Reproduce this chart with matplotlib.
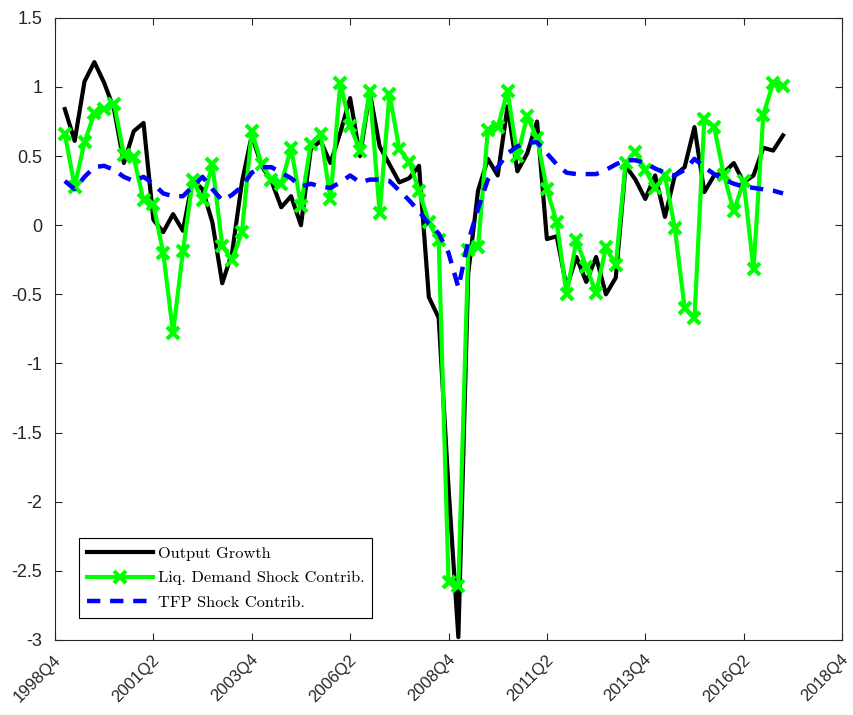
import numpy as np
import matplotlib.pyplot as plt
import matplotlib.transforms as mtransforms

# quarterly data, 1999Q1 .. 2017Q2
quarters = np.arange(1, 75)

output_growth = [0.84, 0.61, 1.04, 1.18, 1.03, 0.84, 0.45, 0.68, 0.74, 0.04,
                 -0.05, 0.08, -0.04, 0.33, 0.26, 0.02, -0.42, -0.20, 0.31, 0.65,
                 0.43, 0.32, 0.13, 0.21, 0.00, 0.55, 0.61, 0.45, 0.67, 0.92,
                 0.50, 0.96, 0.57, 0.44, 0.31, 0.34, 0.43, -0.52, -0.67, -1.90,
                 -2.98, -0.35, 0.25, 0.48, 0.36, 0.86, 0.39, 0.52, 0.75, -0.10,
                 -0.08, -0.45, -0.23, -0.41, -0.23, -0.50, -0.38, 0.43, 0.33, 0.19,
                 0.36, 0.06, 0.36, 0.42, 0.71, 0.24, 0.36, 0.38, 0.45, 0.31,
                 0.36, 0.56, 0.54, 0.65]

liq_demand = [0.66, 0.28, 0.60, 0.81, 0.84, 0.88, 0.51, 0.49, 0.18, 0.15,
              -0.20, -0.78, -0.19, 0.33, 0.18, 0.44, -0.15, -0.25, -0.05, 0.68,
              0.44, 0.33, 0.30, 0.56, 0.14, 0.59, 0.66, 0.19, 1.03, 0.72,
              0.54, 0.97, 0.09, 0.95, 0.55, 0.46, 0.25, 0.02, -0.11, -2.58,
              -2.61, -0.18, -0.16, 0.69, 0.71, 0.97, 0.50, 0.79, 0.63, 0.26,
              0.02, -0.50, -0.11, -0.30, -0.49, -0.16, -0.29, 0.45, 0.53, 0.40,
              0.27, 0.36, -0.02, -0.60, -0.67, 0.77, 0.71, 0.36, 0.10, 0.32,
              -0.32, 0.80, 1.03, 1.01]

tfp = [0.32, 0.26, 0.35, 0.42, 0.43, 0.40, 0.35, 0.32, 0.35, 0.30,
       0.23, 0.21, 0.21, 0.28, 0.35, 0.26, 0.18, 0.22, 0.28, 0.38,
       0.42, 0.42, 0.38, 0.34, 0.28, 0.30, 0.28, 0.27, 0.31, 0.36,
       0.31, 0.33, 0.33, 0.32, 0.25, 0.18, 0.10, 0.01, -0.06, -0.20,
       -0.45, -0.12, 0.12, 0.33, 0.42, 0.52, 0.57, 0.60, 0.60, 0.52,
       0.44, 0.38, 0.37, 0.37, 0.37, 0.40, 0.44, 0.47, 0.47, 0.45,
       0.41, 0.38, 0.36, 0.40, 0.48, 0.42, 0.37, 0.33, 0.30, 0.28,
       0.27, 0.26, 0.25, 0.23]

xtick_pos = np.arange(0, 81, 10)
xtick_labels = ['1998Q4', '2001Q2', '2003Q4', '2006Q2', '2008Q4',
                '2011Q2', '2013Q4', '2016Q2', '2018Q4']
ytick_pos = np.arange(-3, 1.51, 0.5)
ytick_labels = ['-3', '-2.5', '-2', '-1.5', '-1', '-0.5', '0', '0.5', '1', '1.5']

plt.rcParams['font.family'] = ['Liberation Sans', 'DejaVu Sans']

fig = plt.figure(figsize=(8.54, 7.15), dpi=100)
ax = fig.add_axes([0.0644, 0.105, 0.9216, 0.870])

ax.plot(quarters, output_growth, color='black', lw=3, label='Output Growth')
ax.plot(quarters, liq_demand, color='#00ff00', lw=3, marker='x', ms=9, mew=3,
        label='Liq. Demand Shock Contrib.')
ax.plot(quarters, tfp, color='#0000ff', lw=3.2, ls=(0, (3, 2.2)),
        label='TFP Shock Contrib.')

ax.set_xlim(0, 80)
ax.set_ylim(-3, 1.5)
ax.set_xticks(xtick_pos)
ax.set_xticklabels(xtick_labels, rotation=45, ha='right', va='top',
                   rotation_mode='anchor', fontsize=12)
ax.set_yticks(ytick_pos)
ax.set_yticklabels(ytick_labels)
ax.tick_params(direction='in', length=5, width=0.8, labelsize=13,
               colors='#262626', top=True, right=True)
ax.tick_params(axis='y', pad=9)
ax.tick_params(axis='x', pad=0, labelsize=12)

# shift rotated x labels down a bit, like MATLAB
shift = mtransforms.ScaledTranslation(-1.5 / 100, -12 / 100, fig.dpi_scale_trans)
for lab in ax.get_xticklabels():
    lab.set_transform(lab.get_transform() + shift)

for s in ax.spines.values():
    s.set_color('#262626')
    s.set_linewidth(0.8)

leg = ax.legend(loc='lower left', bbox_to_anchor=(0.0305, 0.035),
                prop={'family': 'cmr10', 'size': 11.8}, handlelength=4.0,
                fancybox=False, framealpha=1, borderpad=0.5, labelspacing=0.62,
                handletextpad=0.3, borderaxespad=0)
leg.get_frame().set_edgecolor('black')
leg.get_frame().set_linewidth(0.8)

fig.savefig('out.png', dpi=100)
